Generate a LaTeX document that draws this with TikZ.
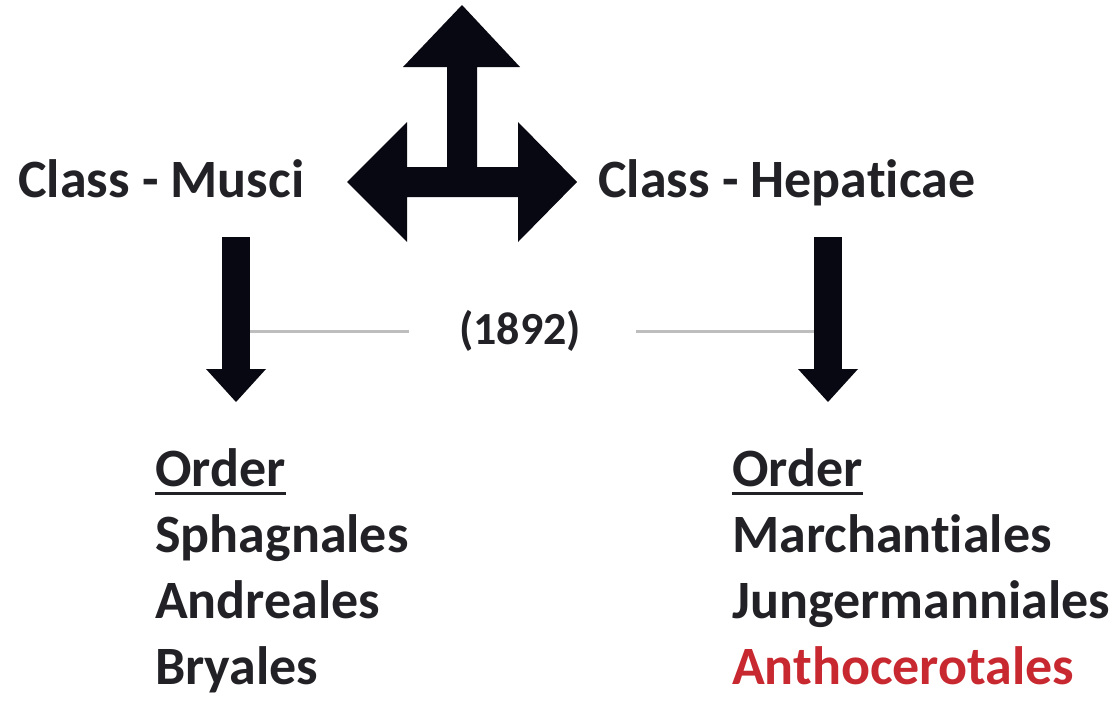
\documentclass[tikz,border=0pt]{standalone}
\usepackage{fontspec}
\setmainfont{Carlito}[Ligatures=NoCommon]
\usetikzlibrary{arrows.meta}
\definecolor{txt}{RGB}{34,34,38}
\definecolor{redtxt}{RGB}{200,40,48}
\definecolor{yrule}{RGB}{190,190,190}
\definecolor{arrblk}{RGB}{8,8,18}
\tikzset{
  lbl/.style={inner sep=0pt,anchor=base west,text=txt,font=\fontsize{54}{66}\selectfont\bfseries},
  yearlbl/.style={inner sep=0pt,text=txt,font=\fontsize{46}{56}\selectfont\bfseries},
  downarr/.style={arrblk,line width=28pt,-{Triangle[width=60pt,length=33pt,line width=0pt]}},
  yearline/.style={yrule,line width=3pt}
}
\begin{document}
\begin{tikzpicture}[x=1pt,y=-1pt]
\useasboundingbox (0,0) rectangle (1119,704);
\fill[arrblk] (462,5) -- (520,67) -- (477,67) -- (477,167) -- (518,167) -- (518,122)
  -- (577,182) -- (518,242) -- (518,197) -- (407,197) -- (407,242) -- (347,182)
  -- (407,122) -- (407,167) -- (447,167) -- (447,67) -- (403,67) -- cycle;
\node[lbl] (musci) at (18,197) {Class - Musci};
\node[lbl] (hepat) at (598,197) {Class - Hepaticae};
\node[yearlbl] (year) at (520,331) {(1892)};
\coordinate (mtop) at (236,237);
\coordinate (mbot) at (236,402);
\coordinate (htop) at (828,237);
\coordinate (hbot) at (828,402);
\draw[yearline] (mtop |- year) -- ([xshift=-50pt]year.west);
\draw[yearline] ([xshift=55pt]year.east) -- (htop |- year);
\draw[downarr] (mtop) -- (mbot);
\draw[downarr] (htop) -- (hbot);
\node[lbl] (ordm) at (155,486) {Order};
\node[lbl] (sph) at (155,552) {Sphagnales};
\node[lbl] (and) at (155,618) {Andreales};
\node[lbl] (bry) at (155,684) {Bryales};
\node[lbl] (ordh) at (732,486) {Order};
\node[lbl] (mar) at (732,552) {Marchantiales};
\node[lbl] (jun) at (732,618) {Jungermanniales};
\node[lbl,text=redtxt] (ant) at (732,684) {Anthocerotales};
\draw[txt,line width=3pt] ([yshift=-7pt]ordm.base west) -- ([yshift=-7pt]ordm.base east);
\draw[txt,line width=3pt] ([yshift=-7pt]ordh.base west) -- ([yshift=-7pt]ordh.base east);
\end{tikzpicture}
\end{document}
